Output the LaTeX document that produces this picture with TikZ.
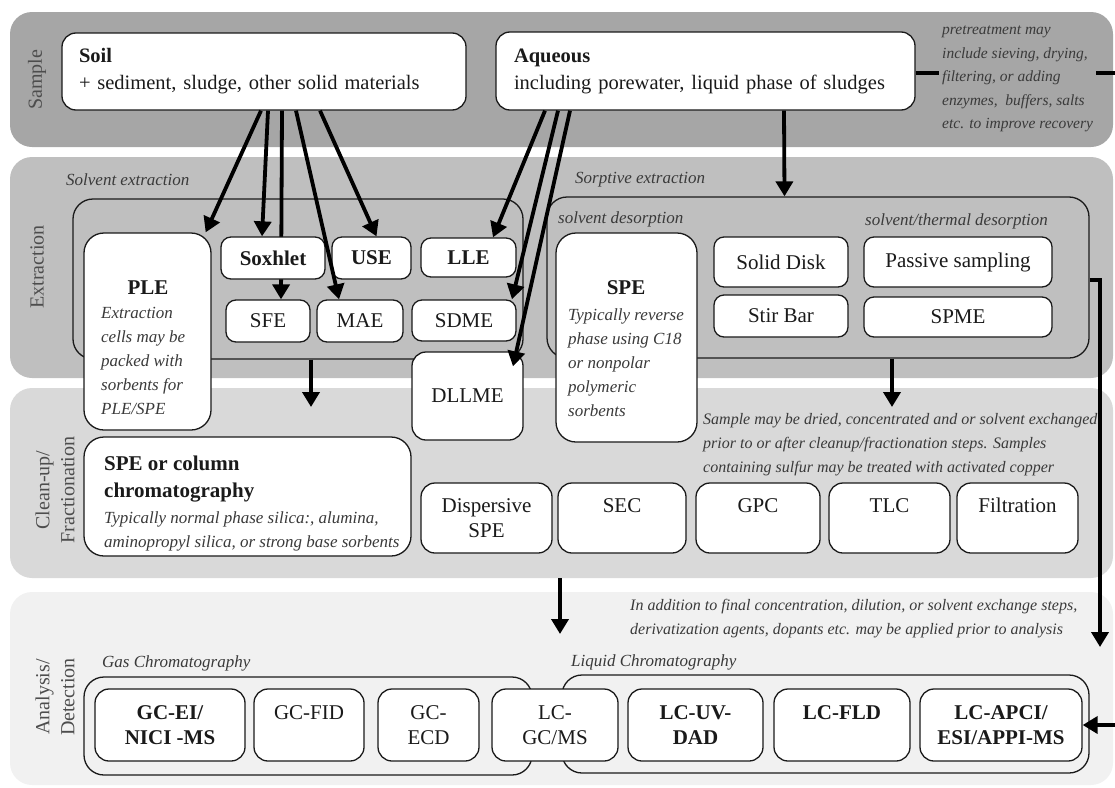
\documentclass[tikz,border=0pt]{standalone}
\usepackage{fontspec}
\setmainfont{Liberation Serif}
\usetikzlibrary{arrows.meta,calc}
\definecolor{bandA}{HTML}{A6A6A6}
\definecolor{bandB}{HTML}{BFBFBF}
\definecolor{bandC}{HTML}{D9D9D9}
\definecolor{bandD}{HTML}{F1F1F1}
\definecolor{ink}{HTML}{1A1A1A}
\definecolor{notec}{HTML}{3A3A3A}
\definecolor{lblc}{HTML}{4D4D4D}
\begin{document}
\begin{tikzpicture}[x=1pt,y=-1pt,
 band/.style={rounded corners=22pt},
 grp/.style={draw=ink, line width=1.3pt, rounded corners=20pt, inner sep=0pt},
 bx/.style={draw=ink, line width=1.3pt, fill=white, rounded corners=10pt, inner sep=0pt,
   font=\fontsize{21}{25}\selectfont, text=ink, align=center},
 bxb/.style={bx, font=\fontsize{21}{25}\selectfont\bfseries},
 arr/.style={line width=3.8pt, -{Triangle[width=17pt,length=15pt]}},
 plainline/.style={line width=3.8pt},
 nt/.style={font=\fontsize{16}{24}\selectfont\itshape, text=notec, align=left, inner sep=0pt},
 ttl/.style={font=\fontsize{17}{24}\selectfont\itshape, text=notec, inner sep=0pt, anchor=west},
 sect/.style={font=\fontsize{20}{25}\selectfont, text=lblc, rotate=90, align=center, inner sep=0pt},
]
\path[use as bounding box] (0,0) rectangle (1115,787);

% bands
\fill[bandA, band] (10,12) rectangle (1113,147);
\fill[bandB, band] (10,157) rectangle (1113,378);
\fill[bandC, band] (10,388) rectangle (1113,578);
\fill[bandD, band] (10,592) rectangle (1113,785);

% section labels
\node[sect] (lsample) at (37,80) {Sample};
\node[sect] (lext) at (37,267) {Extraction};
\node[sect] (lclean) at (55,490) {Clean-up/\\Fractionation};
\node[sect] (lana) at (55,697) {Analysis/\\Detection};

% sample
\node[bx, minimum width=404pt, minimum height=77pt, text width=370pt, align=left,
  rounded corners=14pt, font=\fontsize{20.5}{27}\selectfont] (soil) at (264,71.5)
  {\textbf{Soil}\\+ sediment, sludge, other solid materials};
\node[bx, minimum width=419pt, minimum height=78pt, text width=383pt, align=left,
  rounded corners=14pt, font=\fontsize{20.5}{27}\selectfont] (aq) at (705.5,71)
  {\textbf{Aqueous}\\including porewater, liquid phase of sludges};
\coordinate (pout) at (1115,73);
\draw[plainline] (aq.east |- pout) -- (pout);
\node[nt, font=\fontsize{15.5}{23.5}\selectfont\itshape, fill=bandA, inner sep=3pt,
  anchor=north west] (pre) at (939,23)
  {pretreatment may\\include sieving, drying,\\filtering, or adding\\enzymes,\ \ buffers, salts\\etc. to improve recovery};

% extraction groups
\node[grp, minimum width=450pt, minimum height=160pt] (solv) at (298,279) {};
\node[grp, minimum width=542pt, minimum height=161pt] (sorp) at (818,277.5) {};
\node[ttl] (tsolv) at (66,180) {Solvent extraction};
\node[ttl] (tsorp) at (575,180) {Sorptive extraction};
\node[ttl] (tsd) at (558,219) {solvent desorption};
\node[ttl] (tstd) at (865,221) {solvent/thermal desorption};

% PLE
\node[bx, minimum width=127pt, minimum height=197pt, rounded corners=20pt] (ple) at (147.5,331.5) {};
\node[font=\fontsize{21}{25}\selectfont\bfseries, text=ink, inner sep=0pt] (pleT) at (148,288) {PLE};
\node[nt, font=\fontsize{17}{24}\selectfont\itshape, anchor=north west] (pleX) at (101,307)
  {Extraction\\cells may be\\packed with\\sorbents for\\PLE/SPE};

% soil arrow to SFE passes behind Soxhlet
\node[bx, minimum width=84pt, minimum height=42pt] (sfe) at (268,321) {SFE};
\draw[arr] ([xshift=18pt]soil.south) -- ([xshift=13pt]sfe.north);

\node[bxb, minimum width=104pt, minimum height=42pt] (sox) at (273,258) {Soxhlet};
\node[bxb, minimum width=79pt, minimum height=42pt] (use) at (371.5,258) {USE};
\node[bxb, minimum width=95pt, minimum height=39pt] (lle) at (468.5,257.5) {LLE};
\node[bx, minimum width=86pt, minimum height=42pt] (mae) at (360,321) {MAE};
\node[bx, minimum width=104pt, minimum height=41pt] (sdme) at (464,320.5) {SDME};
\node[bx, minimum width=111pt, minimum height=88pt, rounded corners=14pt] (dllme) at (467.5,396) {DLLME};

% SPE (sorptive)
\node[bx, minimum width=141pt, minimum height=209pt, rounded corners=20pt] (spe) at (626.5,337.5) {};
\node[font=\fontsize{21}{25}\selectfont\bfseries, text=ink, inner sep=0pt] (speT) at (626,288) {SPE};
\node[nt, font=\fontsize{17}{24}\selectfont\itshape, anchor=north west] (speX) at (568,308)
  {Typically reverse\\phase using C18\\or nonpolar\\polymeric\\sorbents};
\node[bx, minimum width=134pt, minimum height=50pt] (disk) at (781,262) {Solid Disk};
\node[bx, minimum width=188pt, minimum height=50pt] (pas) at (958,262) {Passive sampling};
\node[bx, minimum width=134pt, minimum height=42pt] (stir) at (781,316) {Stir Bar};
\node[bx, minimum width=188pt, minimum height=40pt] (spme) at (958,317) {SPME};

% arrows sample -> extraction
\draw[arr] ([xshift=-3pt]soil.south) -- ([xshift=-6pt]ple.north east);
\draw[arr] ([xshift=4pt]soil.south) -- ([xshift=-11pt]sox.north);
\draw[arr] ([xshift=32pt]soil.south) -- ([xshift=-21pt]mae.north);
\draw[arr] ([xshift=56pt]soil.south) -- ([xshift=5pt]use.north);
\draw[arr] ([xshift=-160.5pt]aq.south) -- ([xshift=24.5pt]lle.north);
\draw[arr] ([xshift=-147.5pt]aq.south) -- ([xshift=48pt]sdme.north);
\draw[arr] ([xshift=-135.5pt]aq.south) -- ([xshift=45.5pt,yshift=-15pt]dllme.north);
\draw[arr] ([xshift=78.5pt]aq.south) -- ([xshift=-33.5pt]sorp.north);

% extraction -> cleanup
\coordinate (d1) at (311,407);
\coordinate (d2) at (892,407);
\draw[arr] (solv.south -| d1) -- (d1);
\draw[arr] (sorp.south -| d2) -- (d2);
\coordinate (r1) at (1100,647);
\draw[arr] ([yshift=-2.5pt]sorp.east) -| (r1);

% clean-up
\node[bx, minimum width=327pt, minimum height=119pt, rounded corners=20pt] (spec) at (247.5,496.5) {};
\node[font=\fontsize{21}{27}\selectfont\bfseries, text=ink, align=left, inner sep=0pt, anchor=north west]
  (specT) at (104,456) {SPE or column\\chromatography};
\node[nt, font=\fontsize{17}{24}\selectfont\itshape, anchor=north west] (specX) at (104,511)
  {Typically normal phase silica:, alumina,\\aminopropyl silica, or strong base sorbents};
\node[bx, minimum width=131pt, minimum height=70pt, rounded corners=14pt] (dspe) at (486.5,518) {Dispersive\\SPE};
\node[bx, minimum width=128pt, minimum height=70pt, rounded corners=14pt] (sec) at (622,518) {SEC\\~};
\node[bx, minimum width=124pt, minimum height=70pt, rounded corners=14pt] (gpc) at (758,518) {GPC\\~};
\node[bx, minimum width=121pt, minimum height=70pt, rounded corners=14pt] (tlc) at (889.5,518) {TLC\\~};
\node[bx, minimum width=121pt, minimum height=70pt, rounded corners=14pt] (filt) at (1017.5,518) {Filtration\\~};
\node[nt, anchor=north west] (cnote) at (703,413)
  {Sample may be dried, concentrated and or solvent exchanged\\prior to or after cleanup/fractionation steps. Samples\\containing sulfur may be treated with activated copper};

% cleanup -> analysis
\coordinate (c3a) at (560,578);
\coordinate (c3b) at (560,634);
\draw[arr] (c3a) -- (c3b);

% analysis
\node[nt, anchor=north west] (anote) at (630,599)
  {In addition to final concentration, dilution, or solvent exchange steps,\\derivatization agents, dopants etc. may be applied prior to analysis};
\node[ttl] (tgc) at (102,663) {Gas Chromatography};
\node[ttl] (tlcg) at (571,662) {Liquid Chromatography};
\node[grp, minimum width=448pt, minimum height=98pt] (gc) at (308,726) {};
\node[grp, minimum width=527pt, minimum height=98pt] (lc) at (825.5,724) {};
\node[bxb, minimum width=150pt, minimum height=72pt, rounded corners=14pt] (gcei) at (170,725) {GC-EI/\\NICI -MS};
\node[bx, minimum width=110pt, minimum height=72pt, rounded corners=14pt] (gcfid) at (309,725) {GC-FID\\~};
\node[bx, minimum width=101pt, minimum height=72pt, rounded corners=14pt] (gcecd) at (428.5,725) {GC-\\ECD};
\node[bx, minimum width=126pt, minimum height=72pt, rounded corners=14pt] (lcgc) at (555,725) {LC-\\GC/MS};
\node[bxb, minimum width=135pt, minimum height=72pt, rounded corners=14pt] (lcuv) at (695.5,725) {LC-UV-\\DAD};
\node[bxb, minimum width=136pt, minimum height=72pt, rounded corners=14pt] (lcfld) at (842,725) {LC-FLD\\~};
\node[bxb, minimum width=162pt, minimum height=72pt, rounded corners=14pt] (lcapci) at (1001,725) {LC-APCI/\\ESI/APPI-MS};
\coordinate (r2) at (1115,725);
\draw[arr] (r2) -- (lcapci.east);
\end{tikzpicture}
\end{document}
